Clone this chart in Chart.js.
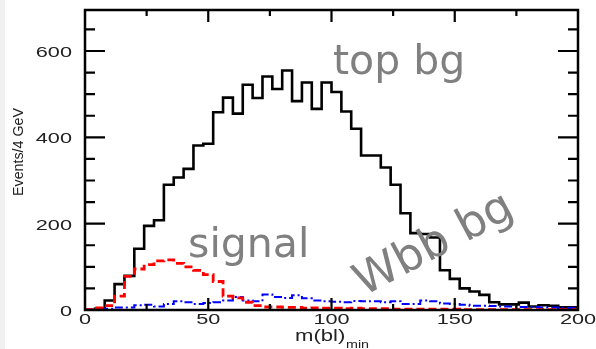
<!DOCTYPE html>
<html>
<head>
<meta charset="utf-8">
<script src="https://cdn.jsdelivr.net/npm/chart.js@4.4.0/dist/chart.umd.min.js"></script>
<style>
  html, body { margin: 0; padding: 0; background: #fff; }
</style>
</head>
<body>
<canvas id="histo" width="596" height="349"></canvas>
<script>
// bin edges, m(bl)_min in GeV (4 GeV bins)
const binEdges = [0, 4, 8, 12, 16, 20, 24, 28, 32, 36, 40, 44, 48, 52, 56, 60, 64, 68, 72, 76,
  80, 84, 88, 92, 96, 100, 104, 108, 112, 116, 120, 124, 128, 132, 136, 140, 144, 148, 152, 156,
  160, 164, 168, 172, 176, 180, 184, 188, 192, 196, 200];

// events per bin
const topBg = [0, 3, 22, 60, 79, 142, 195, 208, 290, 307, 327, 381, 385, 458, 492, 455, 522, 491, 541, 512,
  555, 484, 527, 466, 527, 505, 460, 420, 358, 358, 330, 290, 224, 178, 176, 168, 92, 72, 50, 43,
  35, 18, 13, 13, 17, 8, 11, 10, 6, 6];
const signal = [1, 5, 10, 32, 78, 95, 105, 114, 116, 108, 100, 92, 82, 66, 32, 28, 18, 10, 7, 7,
  6, 6, 4, 5, 4, 4, 3, 4, 3, 3, 3, 2, 2, 2, 2, 2, 2, 2, 1, 1,
  1, 1, 1, 1, 1, 1, 1, 1, 1, 1];
const wbbBg = [1, 2, 3, 6, 6, 11, 12, 8, 14, 20, 18, 14, 16, 18, 22, 30, 22, 20, 36, 30,
  28, 34, 27, 22, 20, 19, 18, 21, 20, 20, 18, 20, 14, 14, 22, 20, 15, 14, 12, 10,
  10, 9, 8, 8, 7, 7, 6, 6, 5, 5];

const xTicks = [0, 50, 100, 150, 200];
const yTicks = [0, 200, 400, 600];

// histogram -> points at bin edges (last edge repeats last bin)
function steps(vals) {
  const pts = vals.map((v, i) => ({ x: binEdges[i], y: v }));
  pts.push({ x: binEdges[binEdges.length - 1], y: vals[vals.length - 1] });
  return pts;
}

// text with horizontal stretch
function txt(ctx, s, x, y, font, color, opts) {
  opts = opts || {};
  ctx.save();
  ctx.translate(x, y);
  if (opts.angle) ctx.rotate(opts.angle);
  ctx.scale(opts.sx || 1, 1);
  ctx.font = font;
  ctx.fillStyle = color;
  ctx.textAlign = opts.align || 'left';
  ctx.textBaseline = 'alphabetic';
  ctx.fillText(s, 0, 0);
  ctx.restore();
}

const bgPlugin = {
  id: 'bg',
  beforeDraw(chart) {
    const ctx = chart.ctx;
    ctx.save();
    ctx.fillStyle = '#fff';
    ctx.fillRect(0, 0, chart.width, chart.height);
    ctx.fillStyle = '#f1f1f1';
    ctx.fillRect(0, 0, 5, chart.height);
    ctx.restore();
  }
};

const framePlugin = {
  id: 'frame',
  afterDatasetsDraw(chart) {
    const { ctx, chartArea: a, scales: { x, y } } = chart;
    ctx.save();
    ctx.strokeStyle = '#000';
    ctx.lineWidth = 2.5;
    ctx.strokeRect(a.left, a.top, a.right - a.left, a.bottom - a.top);
    ctx.lineWidth = 2.2;
    ctx.beginPath();
    for (let v = 25; v < 200; v += 25) {
      const px = x.getPixelForValue(v);
      const len = v % 50 === 0 ? 12 : 6;
      ctx.moveTo(px, a.bottom); ctx.lineTo(px, a.bottom - len);
      ctx.moveTo(px, a.top); ctx.lineTo(px, a.top + len);
    }
    for (let v = 50; v < 695; v += 50) {
      const py = y.getPixelForValue(v);
      const len = v % 200 === 0 ? 20 : 10;
      ctx.moveTo(a.left, py); ctx.lineTo(a.left + len, py);
      ctx.moveTo(a.right, py); ctx.lineTo(a.right - len, py);
    }
    ctx.stroke();
    ctx.restore();

    // tick labels
    const f = '14px "Liberation Sans", Arial, sans-serif';
    xTicks.forEach(v => txt(ctx, String(v), x.getPixelForValue(v), a.bottom + 13.5, f, '#222', { sx: 1.55, align: 'center' }));
    yTicks.forEach(v => txt(ctx, String(v), a.left - 13, y.getPixelForValue(v) + 6, f, '#222', { sx: 1.55, align: 'right' }));

    // axis titles
    txt(ctx, 'Events/4 GeV', 23, 152, '15px "Liberation Sans", Arial, sans-serif', '#222', { angle: -Math.PI / 2, align: 'center', sx: 0.95 });
    txt(ctx, 'm(bl)', 295, 341, '16px "Liberation Sans", Arial, sans-serif', '#222', { sx: 1.38 });
    txt(ctx, 'min', 346, 348, '11px "Liberation Sans", Arial, sans-serif', '#222', { sx: 1.3 });

    // hand-written labels
    const g = '#808080';
    const big = '41px "DejaVu Sans", sans-serif';
    txt(ctx, 'top bg', x.getPixelForValue(100.6), y.getPixelForValue(547), big, g);
    txt(ctx, 'signal', x.getPixelForValue(41.8), y.getPixelForValue(123), big, g);
    txt(ctx, 'Wbb bg', x.getPixelForValue(113), y.getPixelForValue(31), '45px "DejaVu Sans", sans-serif', g, { angle: -28 * Math.PI / 180 });
  }
};

new Chart(document.getElementById('histo'), {
  type: 'line',
  data: {
    datasets: [
      { label: 'signal', data: steps(signal), borderColor: '#ff0000', borderWidth: 2.8, borderDash: [8, 4], stepped: true, pointRadius: 0, fill: false },
      { label: 'Wbb bg', data: steps(wbbBg), borderColor: '#0000ff', borderWidth: 2, borderDash: [8, 3, 2, 3], stepped: true, pointRadius: 0, fill: false },
      { label: 'top bg', data: steps(topBg), borderColor: '#000000', borderWidth: 2.6, stepped: true, pointRadius: 0, fill: false }
    ]
  },
  options: {
    responsive: false,
    animation: false,
    layout: { padding: { left: 85, right: 18, top: 10, bottom: 39 } },
    plugins: { legend: { display: false }, tooltip: { enabled: false } },
    scales: {
      x: { type: 'linear', min: 0, max: 200, display: false },
      y: { type: 'linear', min: 0, max: 695, display: false }
    }
  },
  plugins: [bgPlugin, framePlugin]
});
</script>
</body>
</html>
